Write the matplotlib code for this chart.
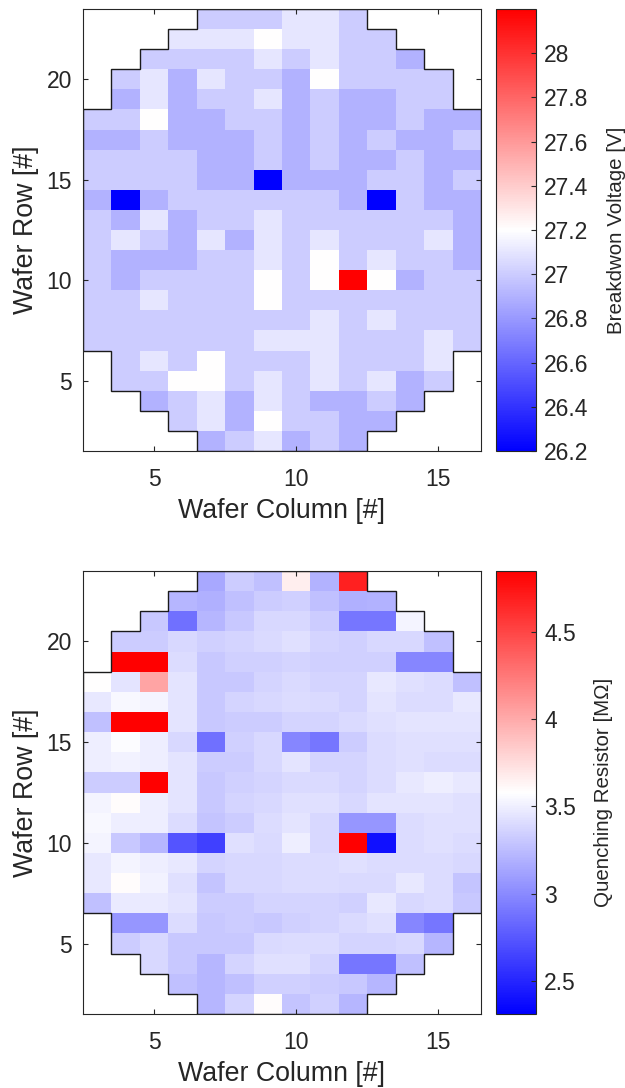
import numpy as np
import matplotlib
matplotlib.use("Agg")
import matplotlib.pyplot as plt

plt.rcParams['font.family'] = ['Liberation Sans', 'DejaVu Sans']

# ---------------- data ----------------
cols = list(range(3, 17))          # wafer columns
rows = list(range(23, 1, -1))      # wafer rows, top to bottom
row_first_col = [7, 6, 5, 4, 4, 3, 3, 3, 3, 3, 3, 3, 3, 3, 3, 3, 3, 4, 4, 5, 6, 7]

breakdown = [
    [27.0, 27.0, 27.0, 27.1, 27.1, 27.0],
    [27.1, 27.1, 27.1, 27.2, 27.1, 27.1, 27.0, 27.0],
    [27.0, 27.0, 27.0, 27.0, 27.1, 27.0, 27.1, 27.0, 27.0, 26.9],
    [27.0, 27.1, 26.9, 27.1, 27.0, 27.0, 26.9, 27.2, 27.0, 27.0, 27.0, 27.0],
    [26.9, 27.1, 26.9, 27.0, 27.0, 27.1, 26.9, 27.0, 26.9, 26.9, 27.0, 27.0],
    [27.0, 27.0, 27.2, 26.9, 26.9, 27.0, 27.0, 26.9, 27.0, 26.9, 26.9, 27.0, 26.9, 26.9],
    [26.9, 26.9, 27.0, 26.9, 26.9, 26.9, 27.0, 26.9, 27.0, 26.9, 27.0, 26.9, 26.9, 27.0],
    [27.0, 27.0, 27.0, 27.0, 26.9, 26.9, 27.0, 26.9, 27.0, 26.9, 26.9, 27.0, 26.9, 26.9],
    [27.0, 27.0, 27.0, 27.0, 26.9, 26.9, 26.2, 26.9, 26.9, 26.9, 27.0, 27.0, 26.9, 27.0],
    [26.9, 26.2, 26.9, 27.0, 27.0, 27.0, 27.0, 27.0, 27.0, 26.9, 26.2, 27.0, 26.9, 26.9],
    [27.0, 26.9, 27.1, 26.9, 27.0, 27.0, 27.1, 27.0, 27.0, 27.0, 27.0, 27.0, 27.0, 26.9],
    [27.0, 27.1, 27.0, 26.9, 27.1, 26.9, 27.1, 27.0, 27.1, 27.0, 27.0, 27.0, 27.1, 26.9],
    [27.0, 26.9, 26.9, 26.9, 27.0, 27.0, 27.1, 27.0, 27.2, 27.0, 27.1, 27.0, 27.0, 26.9],
    [27.0, 26.9, 27.0, 27.0, 27.0, 27.0, 27.2, 27.0, 27.2, 28.2, 27.2, 26.9, 27.0, 27.0],
    [27.0, 27.0, 27.1, 27.0, 27.0, 27.0, 27.2, 27.0, 27.0, 27.0, 27.0, 27.0, 27.0, 27.0],
    [27.0, 27.0, 27.0, 27.0, 27.0, 27.0, 27.0, 27.0, 27.1, 27.0, 27.1, 27.0, 27.0, 27.0],
    [27.0, 27.0, 27.0, 27.0, 27.0, 27.0, 27.1, 27.1, 27.1, 27.0, 27.0, 27.0, 27.1, 27.0],
    [27.0, 27.1, 27.0, 27.2, 27.0, 27.0, 27.0, 27.1, 27.0, 27.0, 27.0, 27.1],
    [27.0, 27.0, 27.2, 27.2, 27.0, 27.1, 27.0, 27.1, 27.0, 27.1, 26.9, 27.0],
    [26.9, 27.0, 27.1, 26.9, 27.1, 27.0, 26.9, 26.9, 27.0, 26.9],
    [27.0, 27.1, 26.9, 27.2, 27.0, 27.0, 26.9, 26.9],
    [26.9, 27.0, 27.1, 26.9, 27.0, 26.9],
]

quenching = [
    [3.15, 3.33, 3.27, 3.66, 3.20, 4.69],
    [3.22, 3.19, 3.27, 3.33, 3.35, 3.27, 3.19, 3.20],
    [3.31, 2.87, 3.22, 3.31, 3.39, 3.39, 3.33, 2.90, 2.90, 3.53],
    [3.33, 3.33, 3.39, 3.35, 3.37, 3.40, 3.43, 3.37, 3.35, 3.39, 3.39, 3.27],
    [4.85, 4.85, 3.41, 3.31, 3.35, 3.35, 3.37, 3.35, 3.35, 3.35, 2.98, 2.98],
    [3.58, 3.45, 4.03, 3.45, 3.31, 3.31, 3.37, 3.40, 3.37, 3.37, 3.47, 3.43, 3.41, 3.27],
    [3.47, 3.55, 3.53, 3.45, 3.31, 3.37, 3.39, 3.41, 3.40, 3.37, 3.45, 3.41, 3.41, 3.47],
    [3.27, 4.85, 4.85, 3.45, 3.31, 3.33, 3.33, 3.37, 3.37, 3.40, 3.43, 3.45, 3.45, 3.45],
    [3.50, 3.57, 3.50, 3.39, 2.87, 3.35, 3.39, 2.98, 2.90, 3.33, 3.41, 3.43, 3.43, 3.43],
    [3.50, 3.52, 3.50, 3.45, 3.33, 3.33, 3.39, 3.45, 3.37, 3.37, 3.41, 3.43, 3.41, 3.41],
    [3.33, 3.33, 4.85, 3.45, 3.31, 3.35, 3.37, 3.40, 3.40, 3.37, 3.41, 3.47, 3.50, 3.47],
    [3.53, 3.59, 3.50, 3.45, 3.31, 3.37, 3.39, 3.43, 3.43, 3.39, 3.45, 3.45, 3.45, 3.43],
    [3.55, 3.50, 3.50, 3.41, 3.29, 3.33, 3.41, 3.45, 3.39, 3.06, 3.06, 3.41, 3.43, 3.43],
    [3.53, 3.31, 3.22, 2.73, 2.63, 3.43, 3.40, 3.50, 3.39, 4.85, 2.39, 3.41, 3.43, 3.41],
    [3.47, 3.53, 3.50, 3.47, 3.37, 3.39, 3.39, 3.41, 3.41, 3.43, 3.41, 3.41, 3.41, 3.39],
    [3.47, 3.59, 3.52, 3.43, 3.29, 3.39, 3.39, 3.41, 3.41, 3.40, 3.40, 3.47, 3.41, 3.29],
    [3.27, 3.48, 3.48, 3.45, 3.33, 3.33, 3.37, 3.37, 3.37, 3.35, 3.47, 3.39, 3.41, 3.31],
    [3.06, 3.06, 3.41, 3.31, 3.33, 3.31, 3.35, 3.37, 3.40, 3.43, 2.98, 2.90],
    [3.33, 3.39, 3.31, 3.31, 3.31, 3.40, 3.41, 3.41, 3.37, 3.37, 3.39, 3.22],
    [3.39, 3.31, 3.22, 3.37, 3.43, 3.43, 3.37, 2.90, 2.90, 3.27],
    [3.27, 3.22, 3.27, 3.35, 3.35, 3.33, 3.31, 3.22],
    [3.22, 3.37, 3.59, 3.29, 3.35, 3.22],
]

breakdown_lim = [26.2, 28.2]
quenching_lim = [2.31, 4.85]
breakdown_ticks = [26.2, 26.4, 26.6, 26.8, 27.0, 27.2, 27.4, 27.6, 27.8, 28.0]
quenching_ticks = [2.5, 3.0, 3.5, 4.0, 4.5]
x_ticks = [5, 10, 15]
y_ticks = [5, 10, 15, 20]

# ---------------- helpers ----------------
TXT = '#262626'
W, H = 625, 1088


def build_grid(values):
    Z = np.full((len(rows), len(cols)), np.nan)
    for i, (r, s, vals) in enumerate(zip(rows, row_first_col, values)):
        j0 = cols.index(s)
        Z[i, j0:j0 + len(vals)] = vals
    return np.ma.masked_invalid(Z)


def outline(values):
    xl = [s - 0.5 for s in row_first_col]
    xr = [s + len(v) - 0.5 for s, v in zip(row_first_col, values)]
    xs, ys = [], []
    for r, x in zip(rows[::-1], xl[::-1]):
        xs += [x, x]
        ys += [r - 0.5, r + 0.5]
    for r, x in zip(rows, xr):
        xs += [x, x]
        ys += [r + 0.5, r - 0.5]
    xs.append(xs[0])
    ys.append(ys[0])
    return xs, ys


def fmt(v):
    return f'{round(v, 1):g}'


def draw(ax, cax, values, lim, cticks, clabel):
    Z = build_grid(values)
    xe = np.arange(min(cols) - 0.5, max(cols) + 1.0, 1.0)
    ye = np.arange(max(rows) + 0.5, min(rows) - 1.0, -1.0)
    cmap = plt.get_cmap('bwr').copy()
    cmap.set_bad('white')
    m = ax.pcolormesh(xe, ye, Z, cmap=cmap, vmin=lim[0], vmax=lim[1],
                      shading='flat', antialiased=False, linewidth=0)
    xs, ys = outline(values)
    ax.plot(xs, ys, color='#1a1a1a', lw=1.0, solid_joinstyle='miter')
    ax.set_xlim(min(cols) - 0.5, max(cols) + 0.5)
    ax.set_ylim(min(rows) - 0.5, max(rows) + 0.5)
    ax.set_xticks(x_ticks)
    ax.set_yticks(y_ticks)
    ax.tick_params(direction='in', top=True, right=True, length=3.6,
                   width=0.8, color=TXT, labelcolor=TXT, labelsize=16.5)
    ax.tick_params(axis='x', pad=12)
    ax.tick_params(axis='y', pad=8)
    for sp in ax.spines.values():
        sp.set_color(TXT)
        sp.set_linewidth(0.8)
    ax.set_xlabel('Wafer Column [#]', fontsize=19.3, color=TXT, labelpad=5)
    ax.set_ylabel('Wafer Row [#]', fontsize=19.3, color=TXT, labelpad=5)

    cb = ax.figure.colorbar(m, cax=cax)
    cb.set_ticks(cticks)
    cb.set_ticklabels([fmt(v) for v in cticks])
    cax.tick_params(direction='in', length=3.6, width=0.8, color=TXT,
                    labelcolor=TXT, labelsize=16.5, pad=6)
    cb.outline.set_edgecolor(TXT)
    cb.outline.set_linewidth(0.8)
    cb.set_label(clabel, fontsize=14.8, color=TXT, labelpad=13)


fig = plt.figure(figsize=(W / 100, H / 100), dpi=100)
ax1 = fig.add_axes([83 / W, 1 - 451 / H, 398 / W, 442 / H])
cax1 = fig.add_axes([496 / W, 1 - 451 / H, 40 / W, 442 / H])
ax2 = fig.add_axes([83 / W, 1 - 1014 / H, 398 / W, 443 / H])
cax2 = fig.add_axes([496 / W, 1 - 1014 / H, 40 / W, 443 / H])

draw(ax1, cax1, breakdown, breakdown_lim, breakdown_ticks, 'Breakdwon Voltage [V]')
draw(ax2, cax2, quenching, quenching_lim, quenching_ticks, 'Quenching Resistor [MΩ]')

fig.savefig('out.png', dpi=100)
